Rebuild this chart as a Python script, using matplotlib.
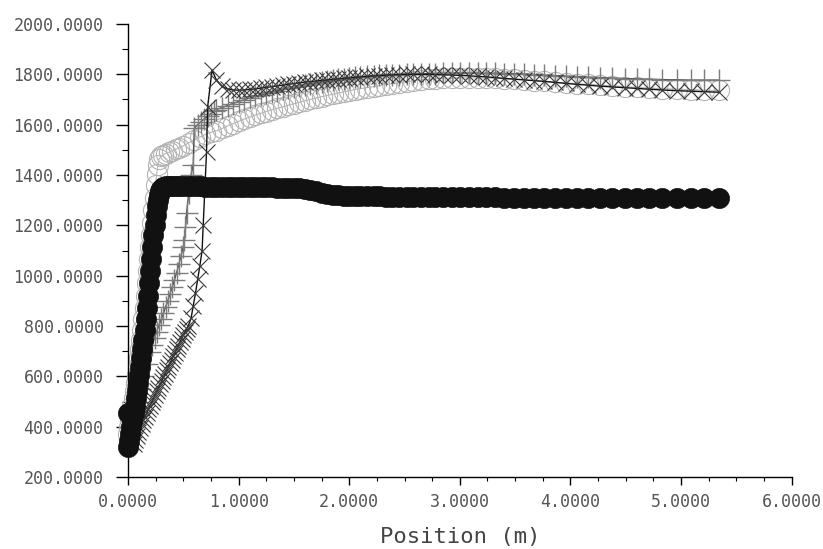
import matplotlib
matplotlib.use("Agg")
import matplotlib.pyplot as plt
from matplotlib.ticker import MultipleLocator, FormatStrFormatter

# ---- data ----
x_down = [0.80, 0.85, 0.90, 0.95, 1.00, 1.05, 1.10, 1.15, 1.20, 1.25, 1.30, 1.35, 1.40, 1.45, 1.50, 1.55,
          1.60, 1.65, 1.70, 1.75, 1.80, 1.85, 1.90, 1.95, 2.00, 2.05, 2.10,
          2.16, 2.22, 2.27, 2.33, 2.39, 2.45, 2.52, 2.58, 2.65, 2.72, 2.78, 2.85, 2.93,
          3.00, 3.08, 3.16, 3.24, 3.32, 3.40, 3.49, 3.58, 3.67, 3.76,
          3.86, 3.96, 4.06, 4.16, 4.27, 4.38, 4.49, 4.60, 4.71, 4.83,
          4.96, 5.09, 5.21, 5.34]

# black filled circles
b_up_x = [0.00, 0.00, 0.01, 0.02, 0.03, 0.04, 0.05, 0.06, 0.07, 0.08, 0.09, 0.10, 0.11, 0.12, 0.13, 0.14,
          0.15, 0.16, 0.17, 0.18, 0.19, 0.20, 0.21, 0.22, 0.23, 0.24, 0.25, 0.26, 0.27, 0.28, 0.29, 0.30,
          0.32, 0.34, 0.37, 0.40, 0.43, 0.46, 0.50, 0.54, 0.58, 0.62, 0.66, 0.70, 0.75]
b_up_y = [455, 318, 345, 372, 400, 428, 456, 484, 513, 542, 572, 605, 638, 672, 708, 745,
          783, 827, 873, 920, 970, 1020, 1068, 1115, 1160, 1203, 1243, 1275, 1300, 1322, 1337, 1346,
          1353, 1356, 1357, 1357, 1357, 1356, 1356, 1355, 1355, 1355, 1355, 1354, 1354]
b_down_y = [1354, 1354, 1353, 1353, 1353, 1352, 1352, 1352, 1351, 1351, 1351, 1350, 1350, 1349, 1349, 1348,
            1346, 1342, 1336, 1330, 1325, 1321, 1319, 1318, 1317, 1316, 1316,
            1315, 1315, 1315, 1314, 1314, 1314, 1313, 1313, 1313, 1313, 1312, 1312, 1312,
            1312, 1311, 1311, 1311, 1311, 1310, 1310, 1310, 1310, 1310,
            1309, 1309, 1309, 1309, 1309, 1308, 1308, 1308, 1308, 1308,
            1308, 1307, 1307, 1307]

# light gray open circles
g_up_x = [0.00, 0.01, 0.02, 0.03, 0.04, 0.05, 0.06, 0.07, 0.08, 0.09, 0.10, 0.11, 0.12, 0.13, 0.14, 0.15,
          0.16, 0.17, 0.18, 0.19, 0.20, 0.21, 0.22, 0.23, 0.24, 0.25, 0.26, 0.27, 0.28, 0.30, 0.32, 0.34,
          0.37, 0.40, 0.43, 0.46, 0.50, 0.55, 0.60, 0.65, 0.70, 0.75]
g_up_y = [372, 400, 428, 456, 484, 513, 542, 572, 605, 638, 672, 708, 745, 783, 827, 873,
          920, 970, 1020, 1068, 1115, 1160, 1210, 1260, 1310, 1360, 1405, 1440, 1462, 1475, 1481, 1485,
          1490, 1496, 1502, 1508, 1516, 1528, 1540, 1551, 1561, 1570]
g_down_y = [1575, 1585, 1595, 1604, 1613, 1622, 1630, 1638, 1645, 1652, 1659, 1665, 1671, 1677, 1683, 1689,
            1695, 1700, 1706, 1711, 1716, 1721, 1726, 1730, 1735, 1739, 1743,
            1747, 1751, 1755, 1759, 1763, 1767, 1771, 1774, 1777, 1780, 1782, 1784, 1785,
            1786, 1786, 1786, 1785, 1784, 1782, 1780, 1778, 1775, 1772,
            1769, 1766, 1763, 1760, 1757, 1754, 1751, 1748, 1746, 1743,
            1741, 1739, 1737, 1736]

# gray plus markers
p_up_x = [0.02, 0.05, 0.08, 0.11, 0.14, 0.17, 0.20, 0.22, 0.24, 0.26, 0.28, 0.30, 0.32, 0.34, 0.36, 0.38,
          0.40, 0.42, 0.44, 0.46, 0.48, 0.50, 0.51, 0.52, 0.53, 0.55, 0.57, 0.59, 0.60, 0.63, 0.66, 0.69,
          0.72, 0.75, 0.78]
p_up_y = [400, 450, 500, 550, 600, 650, 695, 725, 752, 778, 803, 826, 850, 875, 900, 927,
          955, 983, 1012, 1045, 1080, 1115, 1141, 1193, 1249, 1330, 1400, 1440, 1586, 1600, 1612, 1623,
          1634, 1644, 1654]
p_down_y = [1660, 1668, 1676, 1684, 1692, 1699, 1706, 1712, 1718, 1724, 1730, 1735, 1740, 1745, 1750, 1754,
            1758, 1762, 1766, 1770, 1774, 1777, 1780, 1783, 1786, 1788, 1790,
            1792, 1794, 1796, 1797, 1798, 1799, 1800, 1801, 1802, 1803, 1803, 1804, 1804,
            1805, 1805, 1805, 1804, 1804, 1803, 1802, 1801, 1799, 1797,
            1795, 1793, 1791, 1789, 1787, 1785, 1783, 1782, 1780, 1779,
            1778, 1777, 1777, 1777]

# dark cross markers
x_up_x = [0.05, 0.065, 0.08, 0.095, 0.11, 0.125, 0.14, 0.155, 0.17, 0.185, 0.20, 0.215, 0.23, 0.245,
          0.26, 0.275, 0.29, 0.305, 0.32, 0.335, 0.35, 0.365, 0.38, 0.395, 0.41, 0.425, 0.44, 0.455,
          0.47, 0.485, 0.50, 0.515, 0.53, 0.545, 0.57, 0.59, 0.61, 0.63, 0.65, 0.67, 0.68, 0.71, 0.72, 0.76]
x_up_y = [330, 346, 362, 378, 394, 410, 425, 440, 455, 470, 484, 498, 512, 526,
          540, 554, 568, 582, 596, 610, 624, 638, 652, 666, 680, 694, 708, 722,
          736, 750, 764, 778, 790, 800, 830, 880, 930, 985, 1040, 1100, 1200, 1490, 1670, 1817]
x_down_y = [1777, 1752, 1742, 1738, 1737, 1738, 1740, 1742, 1745, 1748, 1751, 1754, 1757, 1760, 1763, 1766,
            1769, 1771, 1774, 1776, 1778, 1780, 1782, 1784, 1786, 1788, 1790,
            1792, 1794, 1795, 1797, 1798, 1799, 1800, 1800, 1800, 1800, 1799, 1798, 1797,
            1796, 1794, 1792, 1790, 1787, 1784, 1781, 1778, 1775, 1772,
            1768, 1764, 1760, 1757, 1753, 1750, 1747, 1744, 1741, 1738,
            1735, 1733, 1731, 1729]

x_ticks = [0, 1, 2, 3, 4, 5, 6]
y_ticks = [200, 400, 600, 800, 1000, 1200, 1400, 1600, 1800, 2000]
x_label = "Position (m)"

# ---- figure ----
plt.rcParams['font.family'] = ['DejaVu Sans Mono', 'DejaVu Sans']
fig = plt.figure(figsize=(8.23, 5.49), dpi=100)
ax = fig.add_axes([0.1555, 0.1311, 0.8064, 0.8252])

ax.plot(g_up_x + x_down, g_up_y + g_down_y, color='#b8b8b8', lw=0.8, marker='o', ms=14.5,
        mfc='none', mec='#b4b4b4', mew=0.8, clip_on=False, zorder=2)
ax.plot(p_up_x + x_down, p_up_y + p_down_y, color='#4a4a4a', lw=1.0, marker='+', ms=16,
        mec='#7c7c7c', mew=1.0, clip_on=False, zorder=3)
ax.plot(x_up_x + x_down, x_up_y + x_down_y, color='#111111', lw=1.0, marker='x', ms=12,
        mec='#3a3a3a', mew=0.8, clip_on=False, zorder=4)
ax.plot(b_up_x + x_down, b_up_y + b_down_y, color='#111111', lw=1.5, marker='o', ms=14.5,
        mfc='#111111', mec='#111111', mew=0.5, clip_on=False, zorder=5)

ax.set_xlim(0, 6)
ax.set_ylim(200, 2000)
ax.set_xticks(x_ticks)
ax.set_yticks(y_ticks)
ax.xaxis.set_minor_locator(MultipleLocator(0.25))
ax.yaxis.set_minor_locator(MultipleLocator(100))
ax.xaxis.set_major_formatter(FormatStrFormatter('%.4f'))
ax.yaxis.set_major_formatter(FormatStrFormatter('%.4f'))

for s in ['top', 'right']:
    ax.spines[s].set_visible(False)
for s in ['left', 'bottom']:
    ax.spines[s].set_linewidth(1.0)
    ax.spines[s].set_color('black')

ax.tick_params(axis='x', which='major', direction='out', length=5.8, width=1.0, pad=6,
               labelsize=12, labelcolor='#555555')
ax.tick_params(axis='x', which='minor', direction='out', length=2.9, width=0.8)
ax.tick_params(axis='y', which='major', direction='out', length=8.6, width=1.0, pad=9,
               labelsize=12, labelcolor='#555555')
ax.tick_params(axis='y', which='minor', direction='out', length=4.3, width=0.8)

ax.set_xlabel(x_label, fontsize=16, color='#444444', labelpad=11)

fig.savefig('out.png', dpi=100)
